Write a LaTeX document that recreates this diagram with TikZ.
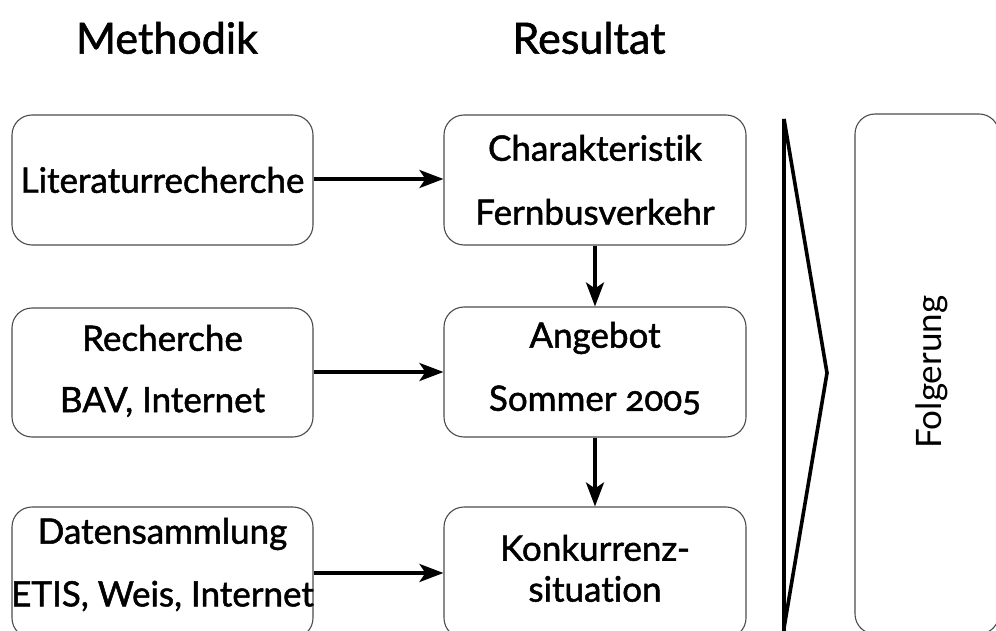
\documentclass[tikz,border=0pt]{standalone}
\usepackage{fontspec}
\setmainfont{Lato}[Numbers=OldStyle, Ligatures=NoCommon, FakeBold=1.4]
\newfontfamily\plainlato{Lato}[Ligatures=NoCommon]
\usetikzlibrary{arrows.meta}
\tikzset{
  box/.style={draw=black!70, line width=1.1pt, rounded corners=20pt, inner sep=0pt},
  txt/.style={font=\fontsize{35}{42}\selectfont, inner sep=0pt, align=center},
  title/.style={font=\fontsize{43}{50}\selectfont, inner sep=0pt},
  flow/.style={line width=3.6pt, -{Stealth[length=24pt,width=18pt,inset=6pt]}},
  chev/.style={line width=3.6pt, line join=miter}
}
\begin{document}
\begin{tikzpicture}[x=1pt,y=-1pt]
\useasboundingbox (0,0) rectangle (996,631);
\clip (0,0) rectangle (996,631);
% column headings
\node[title] (hm) at (167,38) {Methodik};
\node[title] (hr) at (589,38) {Resultat};
% method boxes
\node[box, minimum width=301pt, minimum height=130pt] (m1) at (162.5,180) {};
\node[box, minimum width=301pt, minimum height=129pt] (m2) at (162.5,372.5) {};
\node[box, minimum width=301pt, minimum height=131pt] (m3) at (162.5,572.5) {};
% result boxes
\node[box, minimum width=302pt, minimum height=130pt] (r1) at (595,180) {};
\node[box, minimum width=302pt, minimum height=130pt] (r2) at (595,372) {};
\node[box, minimum width=302pt, minimum height=131pt] (r3) at (595,572.5) {};
% conclusion box
\node[box, minimum width=144pt, minimum height=520pt] (f) at (927,374) {};
% box texts
\node[txt] (t1) at (m1.center) {Literaturrecherche};
\node[txt] (t2a) at (162.5,338) {Recherche};
\node[txt] (t2b) at (162.5,402) {BAV, Internet};
\node[txt] (t3a) at (162.5,534) {Datensammlung};
\node[txt] (t3b) at (162.5,596) {ETIS, Weis, Internet};
\node[txt] (u1a) at (595,148) {Charakteristik};
\node[txt] (u1b) at (595,212) {Fernbusverkehr};
\node[txt] (u2a) at (595,338) {Angebot};
\node[txt] (u2b) at (595,400) {Sommer 2005};
\node[txt] (u3a) at (595,548) {Konkurrenz-};
\node[txt] (u3b) at (595,589) {situation};
\node[txt, font=\plainlato\fontsize{35}{42}\selectfont, rotate=90] (tf) at (932,372) {Folgerung};
% connectors
\draw[flow] (m1.east |- 0,179) -- (r1.west |- 0,179);
\draw[flow] (m2.east |- 0,372) -- (r2.west |- 0,372);
\draw[flow] (m3.east |- 0,573) -- (r3.west |- 0,573);
\draw[flow] (r1.south) -- (r2.north);
\draw[flow] (r2.south) -- (r3.north);
% chevron
\coordinate (c1) at (784,119);
\coordinate (c2) at (827,373);
\coordinate (c3) at (784,628);
\coordinate (c4) at (784,640);
\draw[chev] (c4) -- (c1) -- (c2) -- (c3);
\end{tikzpicture}
\end{document}
